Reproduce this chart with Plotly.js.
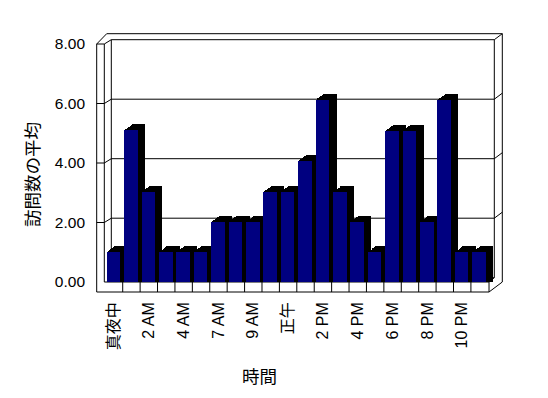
<!DOCTYPE html>
<html>
<head>
<meta charset="utf-8">
<script src="https://cdn.plot.ly/plotly-3.0.1.min.js"></script>
<style>html,body{margin:0;padding:0;background:#fff;}#chart{width:548px;height:398px;}</style>
</head>
<body>
<div id="chart"></div>
<script>
// ---- data ----
const hours = ['真夜中','1 AM','2 AM','3 AM','4 AM','6 AM','7 AM','8 AM','9 AM','11 AM','正午','1 PM','2 PM','3 PM','4 PM','5 PM','6 PM','7 PM','8 PM','9 PM','10 PM','11 PM'];
const visits = [1.02,5.11,3.03,1.02,1.02,1.02,2.03,2.03,2.03,3.03,3.03,4.08,6.13,3.03,2.03,1.02,5.09,5.09,2.03,6.13,1.02,1.02];
const yTickVals = [0,2,4,6,8];
const yTitle = '訪問数の平均';
const xTitle = '時間';

// ---- geometry (pixels) ----
const W = 548, H = 398;
const PL = 95, PR = 504, PT = 30, PB = 294;
const X0 = 105.3, CW = 17.41;     // front edge of first category, category width
const Y0 = 282, YU = 29.75;       // front zero line, px per unit
const px2x = p => -0.5 + (p - X0) / CW;
const px2y = p => (Y0 - p) / YU;
const xRange = [px2x(PL), px2x(PR)];
const yRange = [px2y(PB), px2y(PT)];
const xIdx = hours.map((_, i) => i);

const FONT = 'Arial, "Liberation Sans", "Noto Sans CJK JP", sans-serif';
const NAVY = '#000080';

// ---- bars ----
const barW = 0.78, barOff = -0.42;
const depthX = 7.4, depthY = 5.5, steps = 8;
const traces = [];
for (let k = steps; k >= 1; k--) {
  const dx = depthX * k / steps, dy = depthY * k / steps;
  traces.push({
    type: 'bar', x: xIdx, y: visits.map(v => v + dy / YU), base: 0,
    width: barW, offset: barOff + dx / CW,
    marker: {color: '#000000', line: {width: 0}},
    hoverinfo: 'skip', showlegend: false
  });
}
traces.push({
  type: 'bar', x: xIdx, y: visits, base: 0, width: barW, offset: barOff,
  marker: {color: NAVY, line: {width: 0}},
  hovertext: hours, hoverinfo: 'text+y', textposition: 'none', showlegend: false
});

// ---- frame shapes ----
const shapes = [];
function seg(x1, y1, x2, y2) {
  shapes.push({type: 'line', xref: 'x', yref: 'y', layer: 'below',
    x0: px2x(x1), y0: px2y(y1), x1: px2x(x2), y1: px2y(y2),
    line: {color: '#000', width: 1}});
}
const LW0 = 96.7, LW1 = 104.3, BK = 111.3, RBI = 494.3, RBO = 502.3;
const bdy = 4.3, rdy = 6;
const yTop = Y0 - 8 * YU;
// left wall front face
seg(LW0, yTop, LW0, 292);
seg(LW1, yTop, LW1, Y0);
seg(LW0, yTop, LW1, yTop);
// left wall top going back
seg(LW1, yTop, BK, yTop - bdy);
seg(LW0, yTop, LW0 + 10, yTop - bdy - rdy);
// back wall left inner edge
seg(BK, yTop - bdy, BK, Y0 - bdy);
// back wall top
seg(BK, yTop - bdy, RBI, yTop - bdy);
seg(LW0 + 10, yTop - bdy - rdy, RBO, yTop - bdy - rdy);
seg(RBI, yTop - bdy, RBO, yTop - bdy - rdy);
// back wall right edges
seg(RBI, yTop - bdy, RBI, Y0 - bdy);
seg(RBO, yTop - bdy - rdy, RBO, Y0);
// gridlines
yTickVals.forEach(v => {
  if (v === 0 || v === 8) return;
  const yf = Y0 - v * YU;
  seg(LW0, yf, LW1, yf);
  seg(LW1, yf, BK, yf - bdy);
  seg(BK, yf - bdy, RBI, yf - bdy);
  seg(RBI, yf - bdy, RBO, yf - bdy - rdy);
});
// floor
const FR = X0 + hours.length * CW + 0.7;
seg(BK, Y0 - bdy, RBI, Y0 - bdy);
seg(LW1, Y0, FR, Y0);
seg(LW0, 292, FR, 292);
seg(FR, Y0, FR, 292);
seg(FR, Y0, RBI, Y0 - bdy);
seg(FR, 292, RBO, Y0);
for (let k = 1; k < hours.length; k++) {
  const xp = X0 + k * CW;
  seg(xp, Y0, xp, 292);
}

// ---- layout ----
const layout = {
  width: W, height: H,
  margin: {l: PL, r: W - PR, t: PT, b: H - PB, pad: 0},
  paper_bgcolor: '#fff', plot_bgcolor: 'rgba(0,0,0,0)',
  barmode: 'overlay', bargap: 0,
  showlegend: false, hovermode: false,
  font: {family: FONT, color: '#000', size: 15},
  xaxis: {
    range: xRange, showgrid: false, zeroline: false, showline: false,
    tickmode: 'array', tickvals: xIdx.filter(i => i % 2 === 0),
    ticktext: hours.filter((_, i) => i % 2 === 0),
    tickangle: -90, ticks: '', ticklabelstandoff: 4,
    tickfont: {family: FONT, size: 16, color: '#000'},
    fixedrange: true
  },
  yaxis: {
    range: yRange, showgrid: false, zeroline: false, showline: false,
    tickmode: 'array', tickvals: yTickVals, tickformat: '.2f',
    ticks: '', ticklabelstandoff: 9,
    tickfont: {family: FONT, size: 15.5, color: '#000'},
    fixedrange: true
  },
  shapes: shapes,
  annotations: [
    {text: yTitle, xref: 'paper', yref: 'paper', x: (31 - PL) / (PR - PL), y: (PB - 175) / (PB - PT),
     xanchor: 'center', yanchor: 'middle', textangle: -90, showarrow: false,
     font: {family: '"Noto Sans CJK JP", sans-serif', size: 17.5, color: '#000'}},
    {text: xTitle, xref: 'paper', yref: 'paper', x: (259 - PL) / (PR - PL), y: (PB - 375) / (PB - PT),
     xanchor: 'center', yanchor: 'middle', showarrow: false,
     font: {family: '"Noto Sans CJK JP", sans-serif', size: 17.5, color: '#000'}}
  ]
};

Plotly.newPlot('chart', traces, layout, {displayModeBar: false, staticPlot: true});
</script>
</body>
</html>
